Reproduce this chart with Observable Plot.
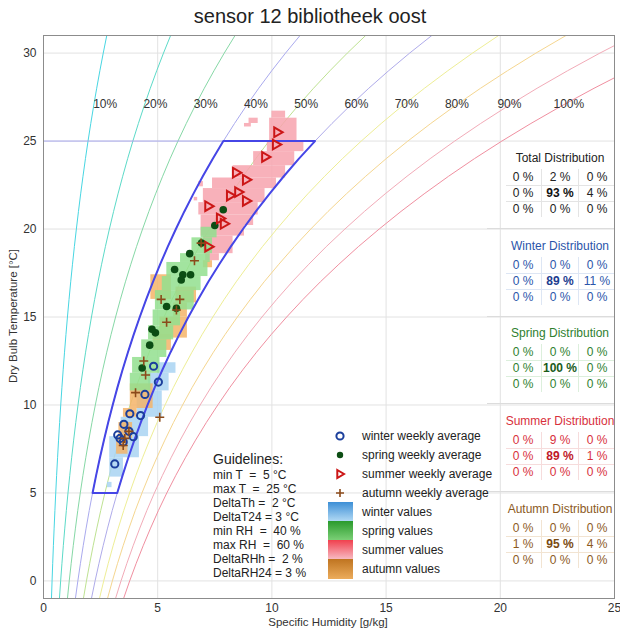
<!DOCTYPE html>
<html>
<head>
<meta charset="utf-8">
<script src="https://cdn.jsdelivr.net/npm/d3@7"></script>
<script src="https://cdn.jsdelivr.net/npm/@observablehq/plot@0.6"></script>
<style>
  html, body { margin: 0; padding: 0; background: #fff; }
  body { width: 620px; height: 632px; overflow: hidden; font-family: "Liberation Sans", Arial, sans-serif; }
  #wrap { position: relative; width: 620px; height: 632px; }
  #title { height: 32px; line-height: 32px; text-align: center; font-size: 20px; color: #222; }
  .abs { position: absolute; white-space: pre; }
  .c { transform: translate(-50%, -50%); }
  .l { transform: translate(0, -50%); }
</style>
</head>
<body>
<div id="wrap">
  <div id="title">sensor 12 bibliotheek oost</div>
  <div id="chart"></div>
  <div id="overlay"></div>
</div>
<script>
// ---------- data ----------
const xTicks = [0, 5, 10, 15, 20, 25];
const yTicks = [0, 5, 10, 15, 20, 25, 30];

// saturation vapour pressure over water (hPa), standard table
const satTemps = [-1,0,1,2,3,4,5,6,7,8,9,10,11,12,13,14,15,16,17,18,19,20,21,22,23,24,25,26,27,28,29,30,31,32];
const satPressure = [5.68,6.11,6.57,7.06,7.58,8.13,8.72,9.35,10.02,10.73,11.48,12.28,13.12,14.02,14.97,15.98,17.05,18.18,19.37,20.64,21.97,23.39,24.87,26.44,28.09,29.83,31.67,33.61,35.65,37.80,40.06,42.43,44.93,47.55];
const airPressure = 1013.25;

const rhLevels = [10, 20, 30, 40, 50, 60, 70, 80, 90, 100];
const rhColors = ["#48d6e2", "#5cdac8", "#86d8a6", "#aaaaee", "#bee292", "#afabea", "#eeee96", "#f5d690", "#f2abb8", "#f08fa0"];
const rhLabels = ["10%", "20%", "30%", "40%", "50%", "60%", "70%", "80%", "90%", "100%"];
const rhLabelQ = [2.7, 4.9, 7.1, 9.3, 11.5, 13.7, 15.9, 18.1, 20.4, 23.0];
const rhLabelT = 27.1;

const guideMinT = 5, guideMaxT = 25, guideMinRH = 40, guideMaxRH = 60;

// seasonal value cells: [T from, T to, q from, q to]
const summerCells = [
  [26.3, 26.7, 10.0, 10.6], [26.0, 26.3, 9.0, 9.4], [25.8, 26.0, 8.8, 9.1],
  [25.0, 26.3, 9.9, 11.1], [24.4, 25.0, 9.8, 11.4], [23.6, 24.4, 9.2, 11.0],
  [22.9, 23.6, 8.3, 10.6], [22.3, 22.9, 7.4, 10.2], [22.4, 22.7, 6.8, 7.0],
  [21.5, 22.3, 7.0, 9.7], [21.6, 21.8, 6.6, 6.75], [20.8, 21.5, 6.8, 9.4],
  [20.2, 20.8, 6.9, 9.2], [19.6, 20.2, 6.9, 8.8], [18.6, 19.6, 7.0, 8.3],
  [18.2, 18.6, 7.1, 7.7]
];
const winterCells = [
  [11.8, 12.4, 5.0, 5.8], [10.8, 11.8, 4.6, 5.5], [9.3, 10.8, 4.1, 5.2],
  [8.2, 9.3, 3.4, 4.6], [7.0, 8.2, 2.9, 4.2], [5.9, 7.0, 2.9, 3.5], [5.3, 5.6, 2.8, 3.0]
];
const autumnCells = [
  [17.8, 18.2, 7.0, 7.4], [16.0, 17.4, 4.7, 5.6], [15.8, 16.7, 5.8, 6.7],
  [15.0, 15.8, 5.7, 6.3], [13.8, 15.0, 5.1, 6.3], [13.1, 14.0, 4.8, 5.6],
  [9.8, 11.2, 3.8, 4.8], [9.3, 9.8, 3.5, 4.1], [8.1, 9.0, 3.3, 3.9], [7.2, 8.1, 3.2, 3.7]
];
const springCells = [
  [19.5, 20.1, 6.9, 7.6], [18.6, 19.5, 6.5, 7.4], [18.1, 18.6, 6.0, 7.3],
  [17.3, 18.1, 5.4, 7.2], [16.5, 17.3, 5.2, 6.9], [15.4, 16.5, 4.9, 6.6],
  [14.5, 15.4, 4.8, 6.0], [13.7, 14.5, 4.6, 5.7], [12.7, 13.7, 4.3, 5.4],
  [11.8, 12.7, 3.9, 5.1], [10.8, 11.8, 3.8, 4.7]
];

// weekly averages: [q, T]
const winterWeekly = [[4.82,12.2],[5.03,11.3],[4.44,10.6],[3.78,9.5],[4.25,9.4],[3.52,8.9],[3.74,8.5],[3.25,8.3],[3.35,8.1],[3.93,8.2],[3.49,7.9],[3.12,6.65]];
const springWeekly = [[7.87,21.1],[7.5,20.2],[6.92,19.2],[6.4,18.6],[5.74,17.7],[6.1,17.4],[6.44,17.4],[6.03,17.1],[5.39,15.6],[5.82,15.5],[4.9,14.1],[4.75,14.3],[4.65,13.4],[4.32,12.1]];
const summerWeekly = [[10.26,25.5],[10.2,24.8],[9.73,24.1],[8.45,23.2],[8.89,22.8],[8.55,22.1],[8.19,21.9],[8.89,21.6],[7.24,21.3],[7.75,20.6],[7.92,20.3],[7.24,19.0]];
const autumnWeekly = [[6.9,19.2],[6.61,18.2],[5.15,16.0],[5.97,16.0],[5.82,15.4],[5.39,14.7],[4.39,12.5],[4.47,11.7],[4.03,10.7],[5.09,9.3],[3.74,8.5],[3.56,8.1],[3.49,7.7]];

// distribution tables
const distTitles = ["Total Distribution", "Winter Distribution", "Spring Distribution", "Summer Distribution", "Autumn Distribution"];
const totalDist  = [[0, 2, 0], [0, 93, 4], [0, 0, 0]];
const winterDist = [[0, 0, 0], [0, 89, 11], [0, 0, 0]];
const springDist = [[0, 0, 0], [0, 100, 0], [0, 0, 0]];
const summerDist = [[0, 9, 0], [0, 89, 1], [0, 0, 0]];
const autumnDist = [[0, 0, 0], [1, 95, 4], [0, 0, 0]];

const guidelineLines = ["min T  =  5 °C", "max T  =  25 °C", "DeltaTh =  2 °C", "DeltaT24 = 3 °C", "min RH  =  40 %", "max RH  =  60 %", "DeltaRHh =  2 %", "DeltaRH24 = 3 %"];
const legendLabels = ["winter weekly average", "spring weekly average", "summer weekly average", "autumn weekly average", "winter values", "spring values", "summer values", "autumn values"];

// ---------- derived ----------
function specHum(rh, i) { const e = rh / 100 * satPressure[i]; return 622 * e / (airPressure - e); }
const rhCurves = rhLevels.map(rh => satTemps.map((T, i) => ({T, q: specHum(rh, i)})));
const iMin = satTemps.indexOf(guideMinT), iMax = satTemps.indexOf(guideMaxT);
const zone = [];
for (let i = iMin; i <= iMax; i++) zone.push({T: satTemps[i], q: specHum(guideMinRH, i)});
for (let i = iMax; i >= iMin; i--) zone.push({T: satTemps[i], q: specHum(guideMaxRH, i)});
zone.push(zone[0]);
const topLine = [{T: guideMaxT, q: 0}, {T: guideMaxT, q: specHum(guideMinRH, iMax)}];
const labelRows = rhLabels.map((t, i) => ({t, q: rhLabelQ[i], T: rhLabelT}));

const triRight = {
  draw(ctx, size) {
    const r = Math.sqrt(size / Math.PI);
    ctx.moveTo(-r * 0.75, -r);
    ctx.lineTo(r, 0);
    ctx.lineTo(-r * 0.75, r);
    ctx.closePath();
  }
};
const cellOpts = (fill) => ({y1: d => d[0], y2: d => d[1], x1: d => d[2], x2: d => d[3], fill, fillOpacity: 0.85});

const chart = Plot.plot({
  width: 620, height: 600,
  marginTop: 3, marginBottom: 34, marginLeft: 43, marginRight: 6,
  style: {fontFamily: "'Liberation Sans', Arial, sans-serif", fontSize: "12px", color: "#333", background: "#fff"},
  x: {domain: [0, 25], ticks: xTicks, tickSize: 0, tickPadding: 5, label: null},
  y: {domain: [-1, 31], ticks: yTicks, tickSize: 0, tickPadding: 7, label: null},
  marks: [
    Plot.ruleX(xTicks, {stroke: "#e2e2e2"}),
    Plot.ruleY(yTicks, {stroke: "#e2e2e2"}),
    ...rhCurves.map((c, k) => Plot.line(c, {x: "q", y: "T", stroke: rhColors[k], strokeWidth: 1, clip: true})),
    Plot.text(labelRows, {x: "q", y: "T", text: "t", fontSize: 12, fill: "#333"}),
    Plot.rect(summerCells, cellOpts("#f7a3ae")),
    Plot.rect(winterCells, cellOpts("#a9d3f2")),
    Plot.rect(autumnCells, cellOpts("#f4b468")),
    Plot.rect(springCells, cellOpts("#92df8e")),
    Plot.line(topLine, {x: "q", y: "T", stroke: "#a8a8ee", strokeWidth: 1}),
    Plot.line(zone, {x: "q", y: "T", stroke: "#4646e6", strokeWidth: 2}),
    Plot.dot(winterWeekly, {x: d => d[0], y: d => d[1], r: 3.6, stroke: "#1b3f9c", strokeWidth: 2, fill: "none"}),
    Plot.dot(springWeekly, {x: d => d[0], y: d => d[1], r: 3.8, fill: "#0c4d14", stroke: "none"}),
    Plot.dot(summerWeekly, {x: d => d[0], y: d => d[1], r: 4.8, symbol: triRight, stroke: "#cc1616", strokeWidth: 2, fill: "none"}),
    Plot.dot(autumnWeekly, {x: d => d[0], y: d => d[1], r: 3, symbol: "plus", stroke: "#8b4a1a", strokeWidth: 1.6}),
    Plot.frame({stroke: "#8c8c8c"})
  ]
});
document.getElementById("chart").appendChild(chart);

// ---------- overlay text ----------
const ov = document.getElementById("overlay");
function put(text, x, y, cls, style) {
  const d = document.createElement("div");
  d.className = "abs " + cls;
  d.textContent = text;
  d.style.left = x + "px"; d.style.top = y + "px";
  Object.assign(d.style, style || {});
  ov.appendChild(d);
  return d;
}
function box(x, y, w, h, style) {
  const d = document.createElement("div");
  d.className = "abs";
  Object.assign(d.style, {left: x + "px", top: y + "px", width: w + "px", height: h + "px"}, style);
  ov.appendChild(d);
  return d;
}
// axis titles
put("Specific Humidity [g/kg]", 328, 622, "c", {fontSize: "11.5px", color: "#333"});
put("Dry Bulb Temperature [°C]", 13, 316, "c", {fontSize: "11.5px", color: "#333", transform: "translate(-50%,-50%) rotate(-90deg)"});

// distribution tables
const dists = [totalDist, winterDist, springDist, summerDist, autumnDist];
const distColors = ["#222", "#2b55aa", "#2f7f2f", "#d8303c", "#8c5a1e"];
const distBold = ["#111", "#1c3d90", "#1a5c1a", "#c01828", "#7a4a10"];
const gridCol = ["#e4e4e4", "#dde6f4", "#dcefdc", "#f6dcdc", "#f2e4d2"];
const titleY = [158, 246, 333, 421, 509];
const colX = [523, 560, 597];
dists.forEach((m, k) => {
  const ty = titleY[k];
  put(distTitles[k], 560, ty, "c", {fontSize: "12px", color: distColors[k]});
  box(541, ty + 11, 1, 48, {background: gridCol[k]});
  box(578, ty + 11, 1, 48, {background: gridCol[k]});
  box(506, ty + 27, 108, 1, {background: gridCol[k]});
  box(506, ty + 43, 108, 1, {background: gridCol[k]});
  m.forEach((row, r) => row.forEach((v, c) => {
    const center = r === 1 && c === 1;
    put(v + " %", colX[c], ty + 19 + r * 16, "c", {fontSize: "12px", color: center ? distBold[k] : distColors[k], fontWeight: center ? "bold" : "normal"});
  }));
  if (k < 4) box(487, ty + 70, 127, 1, {background: "#dcdcdc"});
});

// guidelines
put("Guidelines:", 213, 459, "l", {fontSize: "14px", color: "#222"});
guidelineLines.forEach((t, i) => put(t, 213, 475 + i * 14, "l", {fontSize: "12px", color: "#222"}));

// legend
const legendY = [436, 455, 474, 493, 512, 531, 550, 569];
legendLabels.forEach((t, i) => put(t, 362, legendY[i], "l", {fontSize: "12px", color: "#222"}));
const ns = "http://www.w3.org/2000/svg";
function svgIcon(x, y, inner) {
  const s = document.createElementNS(ns, "svg");
  s.setAttribute("width", 14); s.setAttribute("height", 14);
  s.style.position = "absolute"; s.style.left = (x - 7) + "px"; s.style.top = (y - 7) + "px";
  s.innerHTML = inner;
  ov.appendChild(s);
}
svgIcon(340, legendY[0], '<circle cx="7" cy="7" r="3.6" fill="none" stroke="#1b3f9c" stroke-width="2"/>');
svgIcon(340, legendY[1], '<circle cx="7" cy="7" r="3.2" fill="#0c4d14"/>');
svgIcon(340, legendY[2], '<path d="M4.3 3 L11 7 L4.3 11 Z" fill="none" stroke="#cc1616" stroke-width="2"/>');
svgIcon(340, legendY[3], '<path d="M7 3 V11 M3 7 H11" stroke="#8b4a1a" stroke-width="1.6"/>');
const swatchGrad = [
  ["#3d8fd6", "#b6dcf5"], ["#2a9a2c", "#7fd27a"], ["#f0404e", "#f8c0c8"], ["#bf7420", "#ecac5c"]
];
swatchGrad.forEach((g, i) => box(328, legendY[4 + i] - 10, 25, 20, {background: `linear-gradient(${g[0]}, ${g[1]})`}));
</script>
</body>
</html>
